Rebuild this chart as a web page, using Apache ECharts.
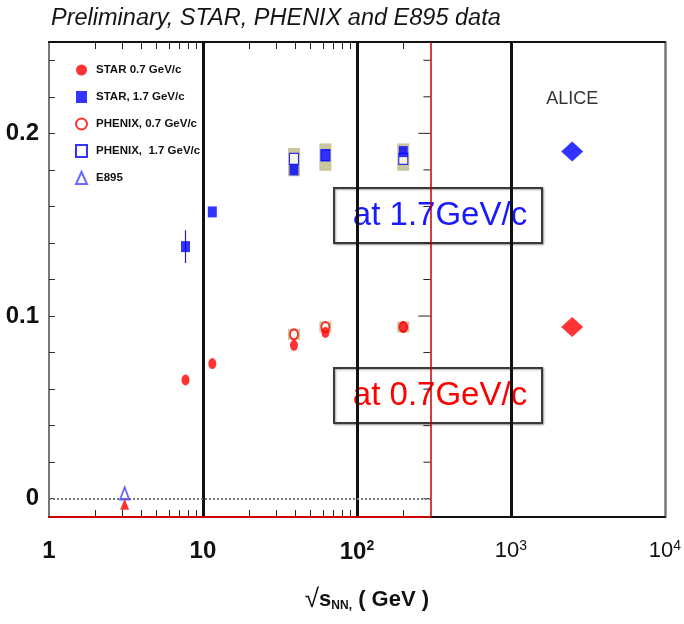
<!DOCTYPE html>
<html><head><meta charset="utf-8">
<script src="https://cdn.jsdelivr.net/npm/echarts@6/dist/echarts.min.js"></script>
<style>html,body{margin:0;padding:0;background:#fff}#c{width:684px;height:624px}</style>
</head><body><div id="c"></div>
<script>
// ---- data ----
const starEnergies = [7.7, 11.5, 39, 62.4, 200];
const star07 = [0.065, 0.074, 0.084, 0.091, 0.094];
const star17 = [0.138, 0.157, 0.180, 0.188, 0.190];
const star17ErrLo = [0.129, null, null, null, null];
const star17ErrHi = [0.147, null, null, null, null];
const phenixEnergies = [39, 62.4, 200];
const phenix07 = [0.090, 0.094, 0.094];
const phenix07SysLo = [0.087, 0.091, 0.091];
const phenix07SysHi = [0.093, 0.097, 0.097];
const phenix17 = [0.186, 0.188, 0.186];
const phenix17SysLo = [0.1765, 0.1795, 0.1795];
const phenix17SysHi = [0.1920, 0.1945, 0.1945];
const e895Energies = [3.1];
const e895_17 = [0.003];
const e895_07 = [-0.003];
const aliceEnergies = [2500];
const alice17 = [0.190];
const alice07 = [0.094];
const xLabelValues = [1, 10, 100, 1000, 10000];
const xMinorTicks = [2, 3, 4, 5, 6, 7, 8, 9, 20, 30, 40, 50, 60, 70, 80, 90, 200];
const yLabelValues = [0, 0.1, 0.2];
const yTicks = [0, 0.02, 0.04, 0.06, 0.08, 0.1, 0.12, 0.14, 0.16, 0.18, 0.2, 0.22, 0.24];
const blackDividers = [10, 100, 1000];
const redDivider = 300;
const xMin = 1, xMax = 10000, yMin = -0.01, yMax = 0.25;

const zip = (xs, ys) => xs.map((x, i) => [x, ys[i]]);
const zip3 = (xs, a, b) => xs.map((x, i) => [x, a[i], b[i]]).filter(d => d[1] != null);

const RED = '#ff0000', BLUE = '#0000ff';
const NARROW = '"Liberation Sans Narrow", "Liberation Sans", Arial, sans-serif';
const SANS = '"Liberation Sans", Arial, sans-serif';

function boxRender(params, api) {
  const x = api.value(0), lo = api.value(1), hi = api.value(2);
  const t = api.coord([x, hi]), b = api.coord([x, lo]);
  return { type: 'rect', shape: { x: t[0] - 6, y: t[1], width: 12, height: b[1] - t[1] },
    style: { fill: 'rgba(190,188,140,0.85)' } };
}
function errRender(params, api) {
  const x = api.value(0), lo = api.value(1), hi = api.value(2);
  const t = api.coord([x, hi]), b = api.coord([x, lo]);
  return { type: 'line', shape: { x1: t[0], y1: t[1], x2: b[0], y2: b[1] },
    style: { stroke: '#2222aa', lineWidth: 1.2 } };
}
function tickRender(params, api) {
  const v = api.value(1);
  const p = api.coord([api.value(0), v]);
  const len = Math.abs(v - 0.1) < 1e-9 || Math.abs(v - 0.2) < 1e-9 ? 12 : 7;
  return { type: 'line', shape: { x1: p[0] - len, y1: p[1], x2: p[0], y2: p[1] },
    style: { stroke: '#222', lineWidth: 1 } };
}

const chart = echarts.init(document.getElementById('c'), null, { renderer: 'canvas' });
chart.setOption({
  animation: false,
  backgroundColor: '#fff',
  title: {
    text: 'Preliminary, STAR, PHENIX and E895 data',
    left: 46, top: 2,
    textStyle: { fontFamily: SANS, fontStyle: 'italic', fontWeight: 'normal', fontSize: 23.5, color: '#151515' }
  },
  grid: { left: 49, right: 19, top: 42, bottom: 107 },
  legend: {
    orient: 'vertical', left: 70, top: 58,
    itemWidth: 11, itemHeight: 12, itemGap: 13,
    data: ['STAR 0.7 GeV/c', 'STAR, 1.7 GeV/c', 'PHENIX, 0.7 GeV/c', 'PHENIX,  1.7 GeV/c', 'E895'],
    textStyle: { fontFamily: NARROW, fontWeight: 'bold', fontSize: 11.5, color: '#111', padding: [0, 0, 0, 4], lineHeight: 14 }
  },
  xAxis: [
    {
      type: 'log', logBase: 10, min: xMin, max: xMax, position: 'bottom',
      axisLine: { onZero: false, lineStyle: { color: '#111', width: 2 } },
      axisTick: { show: true, inside: true, length: 7, customValues: xMinorTicks, lineStyle: { color: '#222' } },
      splitLine: { show: false },
      axisLabel: {
        customValues: xLabelValues, margin: 22,
        formatter: v => {
          if (v < 5) return '{b|1}';
          if (v < 50) return '{b|10}';
          if (v < 500) return '{b|10}{bs|2}';
          if (v < 5000) return '{r|10}{rs|3}';
          return '{r|10}{rs|4}';
        },
        rich: {
          b: { fontFamily: NARROW, fontWeight: 'bold', fontSize: 24, color: '#111' },
          bs: { fontFamily: NARROW, fontWeight: 'bold', fontSize: 14, color: '#111', padding: [0, 0, 12, 0] },
          r: { fontFamily: SANS, fontSize: 22, color: '#111' },
          rs: { fontFamily: SANS, fontSize: 14, color: '#111', padding: [0, 0, 10, 0] }
        }
      },
      name: '{rt|√}{s|s}{sub|NN,}{g| ( GeV )}',
      nameLocation: 'middle', nameGap: 70,
      nameTextStyle: {
        padding: [0, 0, 0, 20],
        rich: {
          rt: { fontFamily: SANS, fontSize: 26, color: '#111' },
          s: { fontFamily: NARROW, fontWeight: 'bold', fontSize: 22, color: '#111' },
          sub: { fontFamily: NARROW, fontWeight: 'bold', fontSize: 12, color: '#111', padding: [12, 0, 0, 0] },
          g: { fontFamily: NARROW, fontWeight: 'bold', fontSize: 22, color: '#111' }
        }
      }
    },
    {
      type: 'log', logBase: 10, min: xMin, max: xMax, position: 'top',
      axisLine: { onZero: false, lineStyle: { color: '#111', width: 2 } },
      axisTick: { show: true, inside: true, length: 7, customValues: xMinorTicks, lineStyle: { color: '#222' } },
      axisLabel: { show: false }, splitLine: { show: false }
    }
  ],
  yAxis: [
    {
      type: 'value', min: yMin, max: yMax, position: 'left',
      axisLine: { show: true, onZero: false, lineStyle: { color: '#777', width: 2 } },
      axisTick: { show: true, inside: true, length: 6, customValues: yTicks, lineStyle: { color: '#333' } },
      splitLine: { show: false },
      axisLabel: {
        customValues: yLabelValues, margin: 10,
        formatter: v => (Math.abs(v) < 1e-9 ? '0' : v.toFixed(1)),
        fontFamily: NARROW, fontWeight: 'bold', fontSize: 24, color: '#111'
      }
    },
    {
      type: 'value', min: yMin, max: yMax, position: 'right',
      axisLine: { show: true, onZero: false, lineStyle: { color: '#777', width: 2.5 } },
      axisTick: { show: false }, axisLabel: { show: false }, splitLine: { show: false }
    }
  ],
  series: [
    {
      type: 'line', name: 'dividers', data: [], silent: true,
      markLine: {
        silent: true, symbol: 'none', label: { show: false },
        data: [
          ...blackDividers.map(v => ({ xAxis: v, lineStyle: { color: '#111', width: 3, type: 'solid' } })),
          { xAxis: redDivider, lineStyle: { color: '#c00000', width: 1.5, type: 'solid' } },
          [{ coord: [xMin, 0], lineStyle: { color: '#777', width: 2, type: [2, 2] } }, { coord: [redDivider, 0] }],
          [{ coord: [xMin, yMin], lineStyle: { color: '#d00000', width: 2, type: 'solid' } }, { coord: [redDivider, yMin] }]
        ]
      }
    },
    {
      type: 'custom', name: 'redTicks', silent: true, renderItem: tickRender,
      data: yTicks.map(v => [redDivider, v]), z: 3
    },
    {
      type: 'custom', name: 'sys17', silent: true, renderItem: boxRender,
      encode: { x: 0, y: [1, 2] }, data: zip3(phenixEnergies, phenix17SysLo, phenix17SysHi), z: 3
    },
    {
      type: 'custom', name: 'sys07', silent: true, renderItem: boxRender,
      encode: { x: 0, y: [1, 2] }, data: zip3(phenixEnergies, phenix07SysLo, phenix07SysHi), z: 3
    },
    {
      type: 'custom', name: 'err17', silent: true, renderItem: errRender,
      encode: { x: 0, y: [1, 2] }, data: zip3(starEnergies, star17ErrLo, star17ErrHi), z: 4
    },
    {
      type: 'scatter', name: 'PHENIX, 0.7 GeV/c', data: zip(phenixEnergies, phenix07),
      symbol: 'emptyCircle', symbolSize: [8, 10],
      itemStyle: { color: RED, borderColor: RED, borderWidth: 1.2 }, z: 5
    },
    {
      type: 'scatter', name: 'PHENIX,  1.7 GeV/c', data: zip(phenixEnergies, phenix17),
      symbol: 'rect', symbolSize: [9, 11],
      itemStyle: { color: '#fff', borderColor: BLUE, borderWidth: 1.2 }, z: 5
    },
    {
      type: 'scatter', name: 'STAR 0.7 GeV/c', data: zip(starEnergies, star07),
      symbol: 'circle', symbolSize: [8, 11], itemStyle: { color: RED }, z: 6
    },
    {
      type: 'scatter', name: 'STAR, 1.7 GeV/c', data: zip(starEnergies, star17),
      symbol: 'rect', symbolSize: [9, 11], itemStyle: { color: BLUE }, z: 6
    },
    {
      type: 'scatter', name: 'E895', data: zip(e895Energies, e895_17),
      symbol: 'emptyTriangle', symbolSize: [9, 12],
      itemStyle: { color: '#4444ff', borderColor: '#4444ff', borderWidth: 1.2 }, z: 6
    },
    {
      type: 'scatter', name: 'E895 0.7', data: zip(e895Energies, e895_07),
      symbol: 'triangle', symbolSize: [9, 11], itemStyle: { color: RED }, z: 6
    },
    {
      type: 'scatter', name: 'ALICE 1.7', data: zip(aliceEnergies, alice17),
      symbol: 'diamond', symbolSize: [22, 20], itemStyle: { color: BLUE }, z: 6,
      label: { show: true, position: 'top', distance: 34, formatter: 'ALICE',
        fontFamily: SANS, fontSize: 18, color: '#000' }
    },
    {
      type: 'scatter', name: 'ALICE 0.7', data: zip(aliceEnergies, alice07),
      symbol: 'diamond', symbolSize: [22, 20], itemStyle: { color: RED }, z: 6
    }
  ],
  graphic: [
    {
      type: 'group', left: 333, top: 187, z: 100,
      children: [
        { type: 'rect', shape: { x: 0, y: 0, width: 208, height: 55 },
          style: { fill: '#fff', stroke: '#3a3a3a', lineWidth: 2, shadowColor: 'rgba(0,0,0,0.35)', shadowBlur: 2, shadowOffsetX: 1, shadowOffsetY: 1 } },
        { type: 'text', x: 106, y: 28,
          style: { text: 'at 1.7GeV/c', fill: '#1a1aff', font: '33px "Liberation Sans", Arial, sans-serif', align: 'center', verticalAlign: 'middle' } }
      ]
    },
    {
      type: 'group', left: 333, top: 367, z: 100,
      children: [
        { type: 'rect', shape: { x: 0, y: 0, width: 208, height: 55 },
          style: { fill: '#fff', stroke: '#3a3a3a', lineWidth: 2, shadowColor: 'rgba(0,0,0,0.35)', shadowBlur: 2, shadowOffsetX: 1, shadowOffsetY: 1 } },
        { type: 'text', x: 106, y: 28,
          style: { text: 'at 0.7GeV/c', fill: '#ff0000', font: '33px "Liberation Sans", Arial, sans-serif', align: 'center', verticalAlign: 'middle' } }
      ]
    }
  ]
});
</script></body></html>
